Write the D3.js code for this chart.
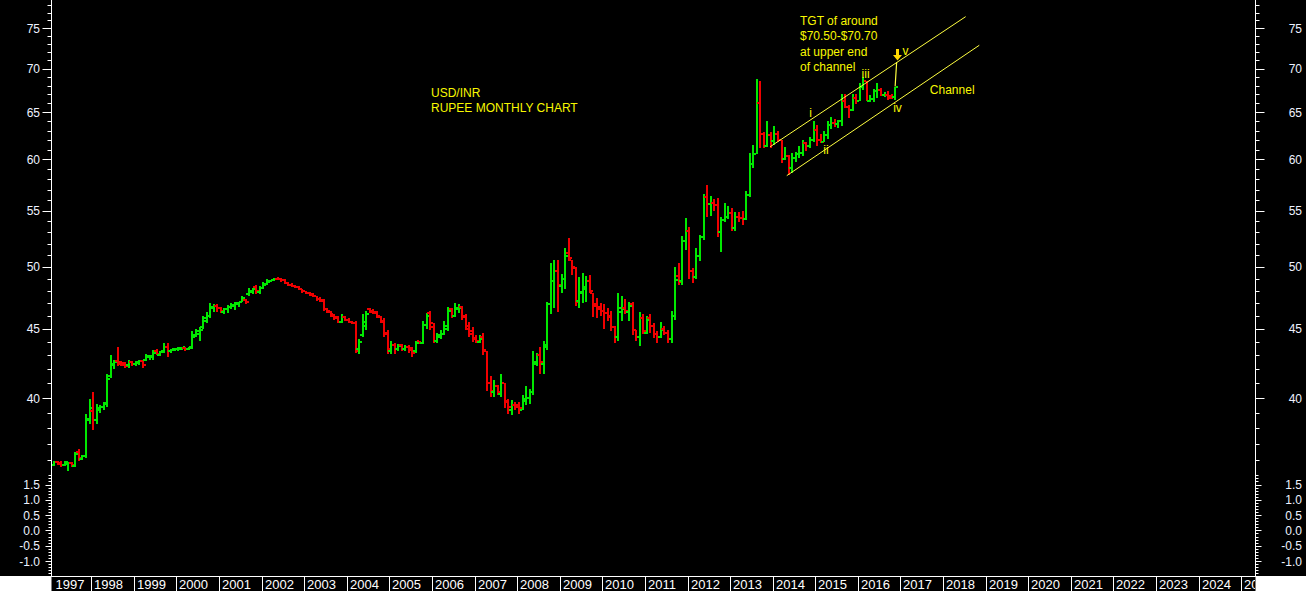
<!DOCTYPE html>
<html>
<head>
<meta charset="utf-8">
<script src="https://cdn.jsdelivr.net/npm/d3@7"></script>
<style>
  html, body { margin: 0; padding: 0; background: #000; overflow: hidden; }
  svg { display: block; font-family: "Liberation Sans", Arial, sans-serif; }
</style>
</head>
<body>
<svg id="chart"></svg>
<script>
// monthly bars, [open, high, low, close]; 1997 starts in February
const ohlc1997 = [[35.72,35.92,35.62,35.86],[35.86,35.95,35.68,35.76],[35.80,35.92,35.55,35.68],[35.70,35.95,35.65,35.85],[35.75,35.85,35.35,35.80],[35.82,35.90,35.55,35.68],[35.62,36.50,35.55,36.35],[36.48,36.65,35.95,36.10],[36.08,36.30,36.00,36.22],[36.22,38.90,36.10,38.60],[38.55,39.90,38.30,39.30]];
const ohlc1998 = [[39.10,40.40,37.90,38.55],[38.55,39.60,38.30,39.30],[39.20,39.50,39.00,39.40],[39.40,39.75,39.20,39.65],[39.60,41.70,39.40,41.30],[41.50,43.00,41.40,42.40],[42.30,42.70,42.00,42.55],[42.60,43.60,42.20,42.40],[42.50,42.60,42.20,42.30],[42.45,42.55,42.10,42.25],[42.30,42.70,42.10,42.55],[42.55,42.60,42.25,42.40]];
const ohlc1999 = [[42.35,42.60,42.25,42.50],[42.45,42.65,42.30,42.60],[42.60,42.65,42.10,42.30],[42.70,43.10,42.60,42.95],[42.90,43.05,42.70,42.95],[42.90,43.40,42.70,43.20],[43.35,43.45,43.00,43.10],[43.05,43.35,42.95,43.25],[43.30,43.90,43.20,43.60],[43.60,43.90,42.90,43.30],[43.30,43.50,43.20,43.45],[43.40,43.55,43.30,43.50]];
const ohlc2000 = [[43.45,43.60,43.35,43.55],[43.50,43.65,43.40,43.60],[43.55,43.60,43.30,43.45],[43.45,43.60,43.40,43.55],[43.60,44.80,43.50,44.40],[44.50,45.00,44.40,44.80],[44.60,45.10,44.10,44.90],[45.10,46.00,45.00,45.80],[45.60,46.30,45.40,46.00],[46.00,47.00,45.80,46.70],[46.60,46.95,46.30,46.80],[46.80,46.90,46.30,46.60]];
const ohlc2001 = [[46.60,46.70,46.20,46.40],[46.30,46.60,46.10,46.50],[46.50,46.85,46.20,46.70],[46.65,47.00,46.50,46.85],[46.80,47.10,46.45,47.00],[46.90,47.10,46.70,47.05],[47.10,47.60,47.10,47.40],[47.25,47.30,46.95,47.05],[47.70,48.20,47.60,48.00],[47.90,48.20,47.75,48.10],[48.30,48.50,47.70,48.00],[47.90,48.40,47.70,48.20]];
const ohlc2002 = [[48.20,48.75,48.10,48.50],[48.55,48.95,48.50,48.80],[48.75,48.90,48.70,48.85],[48.85,49.05,48.80,48.95],[49.00,49.10,48.85,48.95],[48.95,49.05,48.75,48.85],[48.85,48.95,48.55,48.65],[48.65,48.75,48.40,48.50],[48.50,48.60,48.30,48.40],[48.40,48.50,48.20,48.30],[48.30,48.35,48.05,48.15],[48.10,48.15,47.85,47.95]];
const ohlc2003 = [[47.95,48.00,47.70,47.80],[47.80,47.90,47.55,47.65],[47.70,47.85,47.50,47.55],[47.55,47.60,47.20,47.30],[47.35,47.45,47.10,47.15],[47.25,47.30,46.40,46.55],[46.50,46.60,46.20,46.30],[46.35,46.40,45.90,46.00],[46.10,46.15,45.70,45.85],[45.90,46.00,45.40,45.50],[45.50,46.15,45.40,45.90],[45.90,46.00,45.60,45.70]];
const ohlc2004 = [[45.70,45.80,45.40,45.55],[45.55,45.60,45.35,45.40],[45.40,45.60,43.20,43.30],[43.50,44.20,43.10,44.00],[44.50,46.10,44.40,45.50],[45.20,46.40,44.90,46.10],[46.50,46.60,46.20,46.30],[46.40,46.50,46.10,46.20],[46.30,46.40,45.80,45.95],[45.90,46.00,45.40,45.50],[45.60,45.80,44.40,44.60],[44.70,44.90,43.10,43.50]];
const ohlc2005 = [[43.30,44.10,43.10,43.80],[43.80,43.90,43.10,43.45],[43.50,43.85,43.30,43.70],[43.75,43.85,43.30,43.50],[43.45,43.75,43.35,43.65],[43.65,43.80,43.20,43.40],[43.55,43.60,42.90,43.15],[43.30,44.10,43.20,43.90],[44.05,44.05,43.85,43.90],[43.90,45.60,43.85,45.30],[45.30,46.20,45.00,46.00],[46.20,46.35,44.90,45.10]];
const ohlc2006 = [[45.40,45.40,43.90,44.10],[44.10,44.70,43.90,44.50],[44.40,44.90,44.20,44.60],[44.60,45.60,44.50,45.20],[45.00,46.65,44.80,46.40],[46.50,46.60,45.80,46.00],[46.00,47.00,45.90,46.60],[46.50,46.90,46.20,46.60],[46.70,46.80,45.70,45.90],[46.00,46.10,44.90,45.00],[45.20,45.50,44.40,44.60],[44.80,45.10,44.00,44.20]];
const ohlc2007 = [[44.30,44.50,43.90,44.10],[44.00,44.50,43.90,44.20],[44.40,44.70,43.00,43.40],[43.30,43.30,40.50,41.00],[41.00,41.50,40.10,40.50],[40.40,41.25,40.10,40.80],[40.80,40.90,40.20,40.40],[40.30,41.70,40.10,41.00],[41.00,41.00,39.30,39.70],[39.80,39.90,38.95,39.40],[39.20,39.85,38.85,39.50],[39.50,39.70,39.20,39.40]];
const ohlc2008 = [[39.50,39.75,38.90,39.30],[39.20,40.20,39.20,39.90],[39.80,40.80,39.50,40.00],[40.00,40.60,39.60,40.40],[40.40,43.30,40.20,42.50],[42.40,43.20,42.20,43.00],[43.00,43.60,41.70,42.50],[42.40,44.10,41.70,43.80],[43.60,47.10,43.40,46.90],[46.90,50.30,46.10,48.80],[48.80,50.60,46.60,49.60],[49.60,50.60,46.30,48.50]];
const ohlc2009 = [[48.40,49.40,47.80,49.00],[49.00,51.60,48.10,50.90],[51.20,52.50,50.50,50.70],[50.60,50.60,49.30,50.00],[49.90,50.00,46.80,47.10],[47.20,49.10,46.60,47.90],[47.80,49.50,47.00,48.30],[48.10,49.20,47.05,48.80],[48.80,49.30,47.80,48.00],[47.80,47.80,45.90,46.80],[46.90,47.40,45.80,46.50],[46.70,47.00,46.00,46.40]];
const ohlc2010 = [[46.40,46.90,45.00,46.20],[46.20,46.60,45.60,46.00],[45.90,46.40,44.80,45.10],[45.10,45.20,43.90,44.40],[44.40,47.80,44.10,46.60],[46.30,47.60,45.60,46.50],[46.60,47.30,46.10,46.40],[46.30,47.10,45.60,46.80],[46.90,47.05,44.50,44.90],[44.90,44.90,44.10,44.40],[44.40,46.30,43.70,45.80],[45.80,46.10,44.60,44.80]];
const ohlc2011 = [[44.70,46.00,44.60,45.70],[45.80,46.10,44.65,45.20],[45.20,45.40,44.30,44.60],[44.60,44.80,43.90,44.40],[44.40,45.50,44.30,44.90],[45.00,45.20,44.50,44.70],[44.70,44.90,43.90,44.20],[44.20,46.40,43.90,46.00],[46.00,50.00,45.70,48.90],[49.20,50.30,48.50,48.70],[48.80,52.70,48.50,52.20],[52.20,54.30,51.40,53.10]];
const ohlc2012 = [[53.10,53.50,49.00,49.60],[49.60,49.90,48.60,49.10],[49.10,51.60,49.00,50.90],[50.90,52.80,50.50,52.60],[52.60,56.60,52.30,56.30],[56.30,57.40,54.40,55.60],[55.60,56.40,54.50,55.70],[55.70,56.10,55.00,55.50],[55.50,56.20,52.60,53.00],[53.00,54.40,51.30,54.10],[54.10,55.70,53.90,54.40],[54.40,55.40,54.20,54.80]];
const ohlc2013 = [[54.80,55.20,53.10,53.40],[53.40,54.90,53.10,54.40],[54.40,54.90,53.90,54.30],[54.30,55.00,53.70,54.20],[54.20,56.90,54.10,56.50],[56.50,60.70,56.30,59.50],[59.50,61.50,59.10,60.50],[60.50,68.80,60.50,66.00],[66.00,68.60,61.20,62.60],[62.60,62.90,61.20,61.40],[61.40,64.00,61.30,62.50],[62.50,62.90,61.20,61.90]];
const ohlc2014 = [[61.90,63.50,61.50,62.60],[62.60,63.00,61.80,62.00],[62.00,62.00,59.60,60.00],[60.00,61.30,59.90,60.30],[60.30,60.40,58.40,59.10],[59.10,60.60,58.60,60.10],[60.10,60.80,59.70,60.50],[60.50,61.40,60.10,60.60],[60.60,62.00,60.30,61.70],[61.70,61.80,60.90,61.40],[61.40,62.30,61.20,62.00],[62.00,64.00,61.80,63.10]];
const ohlc2015 = [[63.10,63.60,61.40,62.00],[62.00,62.60,61.70,61.80],[61.80,63.00,61.80,62.50],[62.50,64.00,62.10,63.60],[63.60,64.50,63.20,63.80],[63.80,64.30,63.40,63.70],[63.70,64.20,63.30,64.00],[64.00,67.10,63.50,66.30],[66.30,67.00,65.50,65.60],[65.60,65.80,64.40,65.30],[65.30,67.00,65.10,66.60],[66.60,67.00,65.90,66.20]];
const ohlc2016 = [[66.20,68.30,66.20,67.90],[67.90,69.00,67.50,68.50],[68.50,68.60,66.20,66.30],[66.30,66.90,66.10,66.50],[66.50,67.60,66.10,67.40],[67.40,68.30,66.60,67.50],[67.50,67.70,66.80,66.90],[66.90,67.30,66.70,66.95],[66.95,67.40,66.40,66.60],[66.80,67.00,66.50,66.70],[66.70,67.90,66.40,67.90]];

const barYears = [1997,1998,1999,2000,2001,2002,2003,2004,2005,2006,2007,2008,2009,2010,2011,2012,2013,2014,2015,2016];
const barSets = [ohlc1997,ohlc1998,ohlc1999,ohlc2000,ohlc2001,ohlc2002,ohlc2003,ohlc2004,ohlc2005,ohlc2006,ohlc2007,ohlc2008,ohlc2009,ohlc2010,ohlc2011,ohlc2012,ohlc2013,ohlc2014,ohlc2015,ohlc2016];
const firstMonth = [1,0,0,0,0,0,0,0,0,0,0,0,0,0,0,0,0,0,0,0];

const priceTicks = d3.range(36, 79);
const priceLabels = [40,45,50,55,60,65,70,75];
const lowerTicks = d3.range(-14, 19).map(v => v / 10);
const lowerLabels = [1.5,1.0,0.5,0.0,-0.5,-1.0];
const yearLabels = d3.range(1997, 2026);

// channel drawn on the chart: [year, value] pairs
const upperChannel = [[2013.94, 61.3],[2018.53, 76.46]];
const lowerChannel = [[2014.33, 58.36],[2018.85, 72.83]];
const projection = [[2016.875, 67.9],[2016.91, 70.8]];
const arrowTip = [2016.91, 71.0];
const waveLabels = [["i",2014.89,64.44],["ii",2015.25,60.55],["iii",2016.18,68.86],["iv",2016.93,65.06],["v",2017.12,71.63]];
const targetNote = ["TGT of around","$70.50-$70.70","at upper end","of channel"];
const targetAnchor = [2014.64, 75.38];
const channelNote = ["Channel", 2017.69, 66.99];
const titleLines = ["USD/INR","RUPEE MONTHLY CHART"];

const width = 1306, height = 591;
const axisL = 51.5, axisR = 1255.5, upperBottom = 472, lowerTop = 474, stripTop = 576;
const up = '#00e800', down = '#f00000', note = '#f8f800', axisText = '#eef2ff';

const bars = [];
barSets.forEach((set, i) => {
  set.forEach((b, j) => {
    const m = firstMonth[i] + j;
    bars.push({ t: barYears[i] + (m + 0.5) / 12, o: b[0], h: b[1], l: b[2], c: b[3] });
  });
});

const x = d3.scaleLinear().domain([1997, 2025]).range([48.7, 1241.2]);
const y = d3.scaleLog().domain([40, 75]).range([398, 28]);
const y2 = d3.scaleLinear().domain([-1, 1.5]).range([561, 484.5]);

const svg = d3.select('#chart').attr('width', width).attr('height', height);
svg.append('rect').attr('width', width).attr('height', height).attr('fill', '#000');

const defs = svg.append('defs');
defs.append('clipPath').attr('id', 'upper')
  .append('rect').attr('x', axisL + 0.5).attr('y', 0).attr('width', axisR - axisL - 1).attr('height', upperBottom);
defs.append('clipPath').attr('id', 'strip')
  .append('rect').attr('x', axisL + 0.5).attr('y', stripTop).attr('width', axisR - axisL - 1).attr('height', height - stripTop);

// OHLC bars
const plot = svg.append('g').attr('clip-path', 'url(#upper)');
const barG = plot.selectAll('g.bar').data(bars).enter().append('g')
  .attr('class', 'bar')
  .attr('fill', d => d.c >= d.o ? up : down);
barG.append('rect')
  .attr('x', d => Math.round(x(d.t)) - 1)
  .attr('y', d => Math.round(y(d.h)))
  .attr('width', 2)
  .attr('height', d => Math.max(2, Math.round(y(d.l)) - Math.round(y(d.h))));
barG.append('rect')
  .attr('x', d => Math.round(x(d.t)) - 3)
  .attr('y', d => Math.round(y(d.o)) - 1)
  .attr('width', 2).attr('height', 2);
barG.append('rect')
  .attr('x', d => Math.round(x(d.t)) + 1)
  .attr('y', d => Math.round(y(d.c)) - 1)
  .attr('width', 2).attr('height', 2);

// channel and target annotation
const line = d3.line().x(d => x(d[0])).y(d => y(d[1]));
[upperChannel, lowerChannel].forEach(ch => {
  plot.append('path').attr('d', line(ch)).attr('stroke', '#ffff40').attr('stroke-width', 1).attr('fill', 'none');
});
plot.append('path').attr('d', line(projection)).attr('stroke', '#ffff40').attr('stroke-width', 1.2).attr('fill', 'none');

const ax = Math.round(x(arrowTip[0])), ay = Math.round(y(arrowTip[1]));
plot.append('path')
  .attr('d', `M${ax - 1},${ay - 11}h3v6h3l-4.5,5.5l-4.5,-5.5h3z`)
  .attr('fill', '#ffd800');

const noteG = svg.append('g').attr('fill', note).attr('font-size', 12);
noteG.selectAll('text.wave').data(waveLabels).enter().append('text')
  .attr('class', 'wave')
  .attr('x', d => x(d[1])).attr('y', d => y(d[2]))
  .attr('text-anchor', 'middle')
  .text(d => d[0]);
noteG.selectAll('text.tgt').data(targetNote).enter().append('text')
  .attr('class', 'tgt')
  .attr('x', x(targetAnchor[0]))
  .attr('y', (d, i) => y(targetAnchor[1]) + i * 15.4)
  .text(d => d);
noteG.append('text')
  .attr('x', x(channelNote[1])).attr('y', y(channelNote[2]))
  .text(channelNote[0]);
noteG.selectAll('text.title').data(titleLines).enter().append('text')
  .attr('class', 'title')
  .attr('x', 431).attr('y', (d, i) => 97.3 + i * 14.4)
  .text(d => d);

// axes
function drawAxis(side) {
  const g = svg.append('g');
  const x0 = side === 'left' ? axisL : axisR;
  const dir = side === 'left' ? -1 : 1;
  g.append('line').attr('x1', x0).attr('x2', x0).attr('y1', 0).attr('y2', stripTop)
    .attr('stroke', '#fff').attr('stroke-width', 1);
  g.selectAll('line.pt').data(priceTicks).enter().append('line')
    .attr('x1', x0).attr('x2', d => x0 + dir * (d % 5 === 0 ? 9 : 4))
    .attr('y1', d => Math.round(y(d)) + 0.5).attr('y2', d => Math.round(y(d)) + 0.5)
    .attr('stroke', '#fff');
  g.selectAll('line.lt').data(lowerTicks).enter().append('line')
    .attr('x1', x0).attr('x2', d => x0 + dir * (Math.abs(Math.round(d * 10)) % 5 === 0 ? 6 : 3))
    .attr('y1', d => Math.round(y2(d)) + 0.5).attr('y2', d => Math.round(y2(d)) + 0.5)
    .attr('stroke', '#fff');
  const lx = side === 'left' ? 40 : 1302;
  g.selectAll('text.pl').data(priceLabels).enter().append('text')
    .attr('x', lx).attr('y', d => y(d) + 4.5)
    .attr('text-anchor', 'end').attr('font-size', 12).attr('fill', axisText)
    .text(d => d);
  g.selectAll('text.ll').data(lowerLabels).enter().append('text')
    .attr('x', lx).attr('y', d => y2(d) + 4.5)
    .attr('text-anchor', 'end').attr('font-size', 12).attr('fill', axisText)
    .text(d => d3.format('.1f')(d).replace('−', '-'));
}
drawAxis('left');
drawAxis('right');

// year strip
svg.append('rect').attr('x', 0).attr('y', stripTop).attr('width', axisL).attr('height', height - stripTop).attr('fill', '#fff');
svg.append('rect').attr('x', axisR).attr('y', stripTop).attr('width', width - axisR).attr('height', height - stripTop).attr('fill', '#fff');
svg.append('line').attr('x1', 0).attr('x2', width).attr('y1', stripTop + 0.5).attr('y2', stripTop + 0.5).attr('stroke', '#fff');
const strip = svg.append('g').attr('clip-path', 'url(#strip)');
strip.selectAll('line.sep').data(yearLabels).enter().append('line')
  .attr('x1', d => Math.round(x(d)) + 0.5).attr('x2', d => Math.round(x(d)) + 0.5)
  .attr('y1', stripTop).attr('y2', height)
  .attr('stroke', '#fff');
strip.selectAll('text.yr').data(yearLabels).enter().append('text')
  .attr('x', d => Math.max(axisL + 1, Math.round(x(d))) + 3)
  .attr('y', 588.5)
  .attr('font-size', 13).attr('fill', '#fff')
  .text(d => d);
</script>
</body>
</html>
